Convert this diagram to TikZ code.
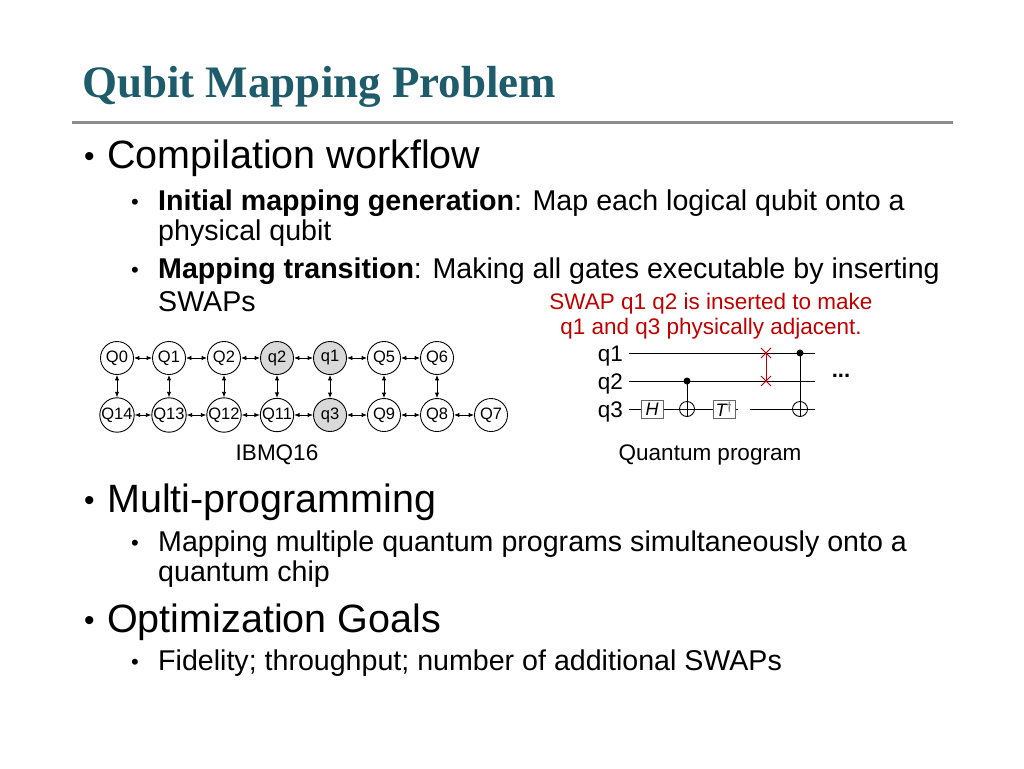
\documentclass[tikz,border=0pt]{standalone}
\usepackage{fontspec}
\setmainfont{Liberation Sans}
\newfontfamily\titlefont{Liberation Serif}
\usetikzlibrary{arrows.meta}
\definecolor{titlec}{HTML}{1F5C6B}
\definecolor{swapred}{HTML}{C00000}
\begin{document}
\begin{tikzpicture}[x=1pt,y=-1pt,
  txt/.style={anchor=west,inner sep=0pt},
  lvl1/.style={txt,font=\fontsize{39.5}{42}\selectfont},
  lvl2/.style={txt,font=\fontsize{28.6}{31}\selectfont},
  bul1/.style={txt,font=\fontsize{30}{30}\selectfont},
  bul2/.style={txt,font=\fontsize{22}{22}\selectfont},
  q/.style={circle,draw,line width=0.9pt,minimum size=33pt,inner sep=0pt,font=\fontsize{16.5}{17}\selectfont},
  qg/.style={q,fill=black!15},
  lk/.style={{Latex[length=5.5pt,width=4.5pt]}-{Latex[length=5.5pt,width=4.5pt]},line width=0.9pt},
  gbox/.style={draw=black!60,fill=white,line width=0.9pt,minimum width=22pt,minimum height=18pt,inner sep=0pt,font=\itshape\fontsize{18}{18}\selectfont},
  wire/.style={line width=0.9pt},
  ql/.style={anchor=east,inner sep=0pt,font=\fontsize{22.5}{24}\selectfont}]
\useasboundingbox (0,0) rectangle (1024,768);
\node[txt,font=\titlefont\bfseries\fontsize{45}{48}\selectfont,text=titlec] (title) at (82,87) {Qubit Mapping Problem};
\draw[line width=3pt,black!45] (72,122) -- (953,122);
\node[bul1] (d1) at (84,159) {\textbullet};
\node[lvl1] (b1) at (107,158) {Compilation workflow};
\node[bul2] (d2) at (131,204) {\textbullet};
\node[lvl2] (s1) at (158,203) {\textbf{Initial mapping generation}: Map each logical qubit onto a};
\node[lvl2] (s1b) at (158,233) {physical qubit};
\node[bul2] (d3) at (131,272) {\textbullet};
\node[lvl2] (s2) at (158,271) {\textbf{Mapping transition}: Making all gates executable by inserting};
\node[lvl2] (s2b) at (158,302) {SWAPs};
\node[font=\fontsize{22.5}{24}\selectfont,text=swapred,align=center,inner sep=0pt] (red) at (711,316) {SWAP q1 q2 is inserted to make\\[1pt]q1 and q3 physically adjacent.};
% graph
\foreach \n/\x/\s in {Q0/117/q,Q1/169/q,Q2/224/q,q2/277/qg,q1/330/qg,Q5/384/q,Q6/437/q}
  \node[\s] (\n) at (\x,358) {\n};
\foreach \n/\x/\s in {Q14/117/q,Q13/169/q,Q12/224/q,Q11/277/q,q3/330/qg,Q9/384/q,Q8/437/q,Q7/491/q}
  \node[\s] (\n) at (\x,415) {\n};
\foreach \a/\b in {Q0/Q1,Q1/Q2,Q2/q2,q2/q1,q1/Q5,Q5/Q6,Q14/Q13,Q13/Q12,Q12/Q11,Q11/q3,q3/Q9,Q9/Q8,Q8/Q7,Q0/Q14,Q1/Q13,Q2/Q12,q2/Q11,q1/q3,Q5/Q9,Q6/Q8}
  \draw[lk] (\a) -- (\b);
\node[font=\fontsize{22.5}{24}\selectfont] (ibm) at (277,455) {IBMQ16};
% circuit
\node[ql] (l1) at (623,356) {q1};
\node[ql] (l2) at (623,384) {q2};
\node[ql] (l3) at (623,412) {q3};
\coordinate (w1s) at (629,353); \coordinate (w1e) at (815,353);
\coordinate (w2s) at (629,381); \coordinate (w2e) at (815,381);
\coordinate (w3s) at (629,409); \coordinate (w3e) at (815,409);
\draw[wire] (w1s) -- (w1e);
\draw[wire] (w2s) -- (w2e);
\draw[wire] (w3s) -- (738,409);
\draw[wire] (750,409) -- (w3e);
\node[gbox] (H) at (652,409) {H};
\node[gbox] (T) at (724,409) {T$^\dagger$};
\node[circle,draw,line width=0.9pt,minimum size=15pt,inner sep=0pt,fill=white] (x1) at (687,409) {};
\draw[wire] (x1.north) -- (x1.south) (x1.west) -- (x1.east);
\fill (687,381) circle (3.5pt) coordinate (c1);
\draw[wire] (c1) -- (x1.north);
\node[circle,draw,line width=0.9pt,minimum size=15pt,inner sep=0pt,fill=white] (x2) at (800,409) {};
\draw[wire] (x2.north) -- (x2.south) (x2.west) -- (x2.east);
\fill (800,353) circle (3.5pt) coordinate (c2);
\draw[wire] (c2) -- (x2.north);
\coordinate (sw1) at (766,353); \coordinate (sw2) at (766,381);
\draw[swapred,line width=0.9pt] (sw1) -- (sw2);
\foreach \c in {sw1,sw2}
  \draw[swapred,line width=0.9pt] ([shift={(-5,-5)}]\c) -- ([shift={(5,5)}]\c) ([shift={(-5,5)}]\c) -- ([shift={(5,-5)}]\c);
\node[font=\bfseries\fontsize{22}{24}\selectfont] (dots) at (841,376) {...};
\node[font=\fontsize{22.5}{24}\selectfont] (qp) at (710,455) {Quantum program};
\node[bul1] (d4) at (84,503) {\textbullet};
\node[lvl1] (b2) at (107,502) {Multi-programming};
\node[bul2] (d5) at (131,545) {\textbullet};
\node[lvl2] (s3) at (158,544) {Mapping multiple quantum programs simultaneously onto a};
\node[lvl2] (s3b) at (158,574) {quantum chip};
\node[bul1] (d6) at (84,623) {\textbullet};
\node[lvl1] (b3) at (107,622) {Optimization Goals};
\node[bul2] (d7) at (131,664) {\textbullet};
\node[lvl2] (s4) at (158,663) {Fidelity; throughput; number of additional SWAPs};
\end{tikzpicture}
\end{document}
